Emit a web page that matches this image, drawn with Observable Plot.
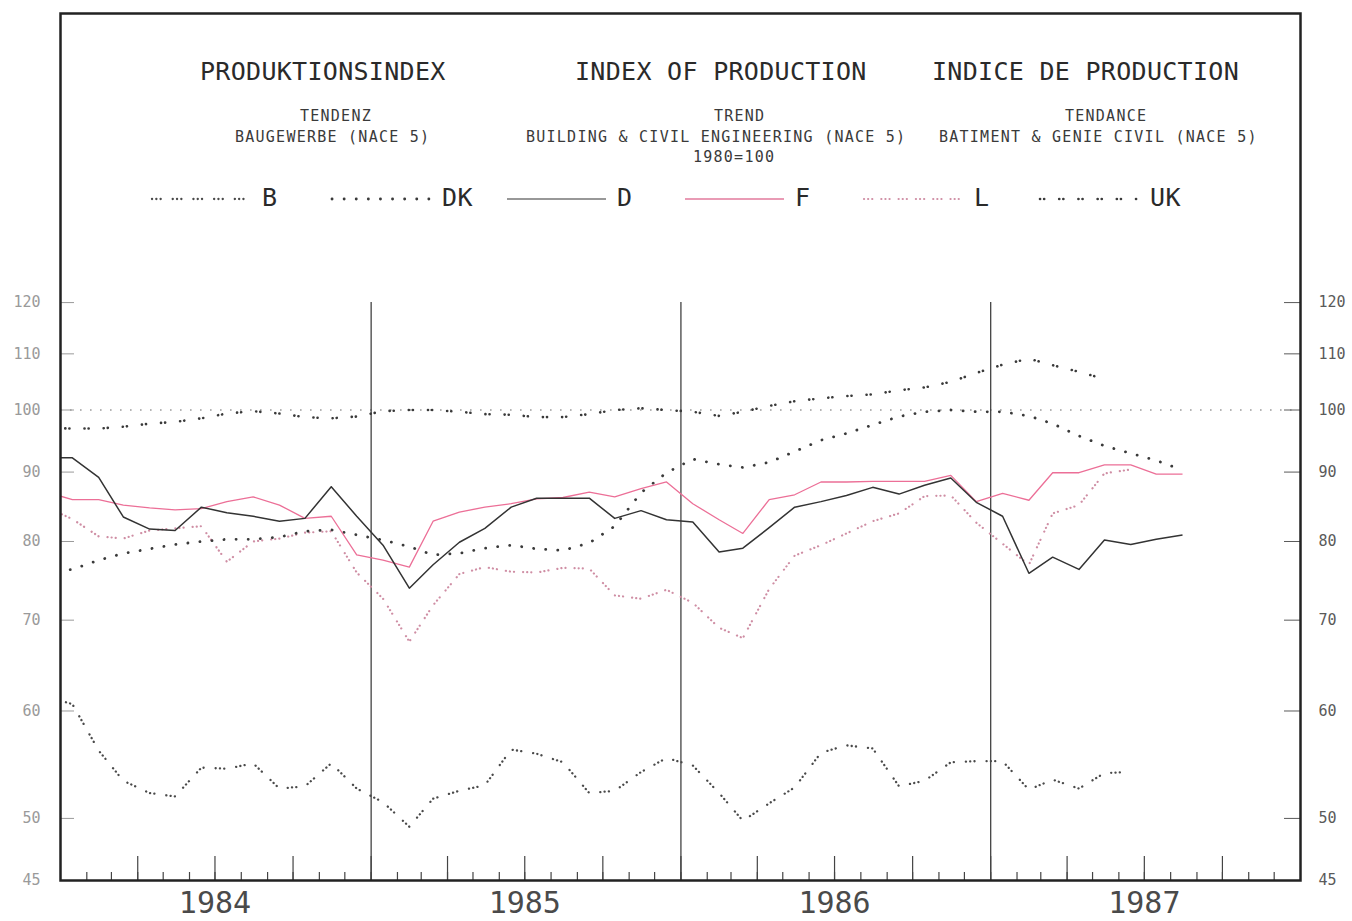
<!DOCTYPE html>
<html>
<head>
<meta charset="utf-8">
<script src="https://cdn.jsdelivr.net/npm/d3@7"></script>
<script src="https://cdn.jsdelivr.net/npm/@observablehq/plot@0.6"></script>
<style>
html, body { margin: 0; padding: 0; background: #fff; }
#wrap { position: relative; width: 1352px; height: 921px; overflow: hidden;
        font-family: "DejaVu Sans Mono", monospace; color: #2b2b2b; }
#wrap > svg { position: absolute; left: 0; top: 0; }
.t { position: absolute; white-space: pre; line-height: 1; }
.leg { position: absolute; }
</style>
</head>
<body>
<div id="wrap"></div>
<script>
// ---------- DATA ----------
const months = [
  "1983-12-15",
  "1984-01-15","1984-02-15","1984-03-15","1984-04-15","1984-05-15","1984-06-15",
  "1984-07-15","1984-08-15","1984-09-15","1984-10-15","1984-11-15","1984-12-15",
  "1985-01-15","1985-02-15","1985-03-15","1985-04-15","1985-05-15","1985-06-15",
  "1985-07-15","1985-08-15","1985-09-15","1985-10-15","1985-11-15","1985-12-15",
  "1986-01-15","1986-02-15","1986-03-15","1986-04-15","1986-05-15","1986-06-15",
  "1986-07-15","1986-08-15","1986-09-15","1986-10-15","1986-11-15","1986-12-15",
  "1987-01-15","1987-02-15","1987-03-15","1987-04-15","1987-05-15","1987-06-15",
  "1987-07-15","1987-08-15"
];

const seriesB = [61.5,
  60.7, 56.1, 53.3, 52.2, 51.9, 54.5, 54.4, 54.9, 52.6, 52.8, 54.9, 52.6,
  51.4, 49.3, 51.7, 52.4, 52.9, 56.2, 55.8, 55.0, 52.2, 52.4, 54.1, 55.4,
  54.7, 52.2, 49.8, 51.3, 52.7, 55.9, 56.6, 56.3, 52.8, 53.3, 55.0, 55.1,
  55.1, 52.5, 53.4, 52.6, 54.0, 54.1, null, null];

const seriesDK = [76.0,
  76.3, 77.5, 78.4, 79.0, 79.6, 80.0, 80.3, 80.3, 80.6, 81.4, 81.6, 80.9,
  80.2, 79.3, 78.2, 78.4, 79.1, 79.5, 79.0, 78.8, 79.8, 82.1, 86.9, 89.9,
  92.0, 91.2, 90.7, 91.5, 93.2, 95.0, 96.1, 97.5, 98.9, 99.7, 100.0, 99.7,
  99.7, 99.0, 97.7, 95.7, 94.1, 92.9, 91.8, 90.3];

const seriesD = [92.2,
  92.2, 89.2, 83.4, 81.7, 81.5, 84.8, 84.0, 83.5, 82.8, 83.2, 87.8, 83.5,
  79.5, 73.9, 76.9, 79.9, 81.8, 84.8, 86.1, 86.1, 86.1, 83.2, 84.3, 83.0,
  82.7, 78.6, 79.1, 81.9, 84.8, 85.6, 86.5, 87.7, 86.7, 88.0, 89.1, 85.5,
  83.5, 75.8, 77.9, 76.3, 80.2, 79.6, 80.3, 80.9];

const seriesF = [87.0,
  85.9, 85.9, 85.1, 84.7, 84.4, 84.6, 85.6, 86.3, 85.1, 83.2, 83.5, 78.2,
  77.5, 76.6, 82.8, 84.1, 84.8, 85.3, 86.0, 86.2, 87.0, 86.3, 87.5, 88.5,
  85.3, 83.0, 81.1, 85.9, 86.6, 88.5, 88.5, 88.6, 88.6, 88.6, 89.5, 85.6,
  86.8, 85.8, 89.9, 89.9, 91.1, 91.1, 89.7, 89.7];

const seriesL = [84.8,
  83.1, 80.7, 80.4, 81.5, 81.8, 82.1, 77.3, 80.0, 80.4, 81.2, 81.4, 75.9,
  72.6, 67.5, 71.8, 75.7, 76.6, 76.0, 75.9, 76.5, 76.4, 73.0, 72.6, 73.7,
  72.1, 69.1, 67.9, 73.8, 78.1, 79.5, 81.1, 82.8, 83.9, 86.4, 86.5, 82.6,
  79.7, 76.9, 83.9, 85.1, 89.8, 90.4, null, null];

const seriesUK = [97.0,
  96.9, 96.9, 97.2, 97.7, 98.0, 98.6, 99.4, 99.8, 99.4, 98.8, 98.6, 98.9,
  99.8, 100.0, 100.0, 99.7, 99.3, 99.2, 98.8, 98.8, 99.3, 100.0, 100.3, 100.0,
  99.7, 99.0, 99.7, 100.7, 101.5, 102.0, 102.4, 102.7, 103.4, 103.9, 104.9, 106.5,
  108.0, 109.1, 107.9, 106.7, 105.4, null, null, null];

const seriesNames = ["B", "DK", "D", "F", "L", "UK"];
const yTickValues = [45, 50, 60, 70, 80, 90, 100, 110, 120];
const referenceLevel = [100];
const yearBreaks = ["1985-01-01", "1986-01-01", "1987-01-01"];
const yearLabelAt = ["1984-07-01", "1985-07-01", "1986-07-01", "1987-07-01"];
const xDomain = ["1984-01-01", "1988-01-01"];

const titleTexts = ["PRODUKTIONSINDEX", "INDEX OF PRODUCTION", "INDICE DE PRODUCTION"];
const subtitleDE = ["TENDENZ", "BAUGEWERBE (NACE 5)"];
const subtitleEN = ["TREND", "BUILDING & CIVIL ENGINEERING (NACE 5)", "1980=100"];
const subtitleFR = ["TENDANCE", "BATIMENT & GENIE CIVIL (NACE 5)"];

// ---------- STYLES ----------
const styles = {
  B:  {stroke: "#4a4a4a", strokeWidth: 2.3, strokeDasharray: "0.1,4.2,0.1,4.2,0.1,12", cap: "round"},
  DK: {stroke: "#3a3a3a", strokeWidth: 2.8, strokeDasharray: "0.1,12", cap: "round"},
  D:  {stroke: "#333333", strokeWidth: 1.5, strokeDasharray: null, cap: "butt"},
  F:  {stroke: "#ec6f97", strokeWidth: 1.3, strokeDasharray: null, cap: "butt"},
  L:  {stroke: "#cf8ea4", strokeWidth: 2.2, strokeDasharray: "0.1,4,0.1,4,0.1,9", cap: "round"},
  UK: {stroke: "#3a3a3a", strokeWidth: 2.6, strokeDasharray: "0.1,4,0.1,15", cap: "round"}
};
const seriesValues = {B: seriesB, DK: seriesDK, D: seriesD, F: seriesF, L: seriesL, UK: seriesUK};

// ---------- BUILD ----------
const dates = months.map(m => new Date(m));
function rowsFor(name) {
  return seriesValues[name]
    .map((v, i) => ({date: dates[i], value: v}))
    .filter(d => d.value != null);
}

const x0 = new Date(xDomain[0]), x1 = new Date(xDomain[1]);
const monthTicks = d3.utcMonth.range(d3.utcMonth.offset(x0, 1), x1);
const quarterTicks = d3.utcMonth.range(d3.utcMonth.offset(x0, 3), x1, 3);

const drawOrder = ["L", "B", "DK", "UK", "F", "D"];
const lineMarks = drawOrder.map(name => Plot.lineY(rowsFor(name), {
  x: "date", y: "value", clip: true,
  stroke: styles[name].stroke,
  strokeWidth: styles[name].strokeWidth,
  strokeDasharray: styles[name].strokeDasharray,
  strokeLinecap: styles[name].cap,
  strokeLinejoin: "round"
}));

const chart = Plot.plot({
  width: 1352,
  height: 921,
  marginLeft: 60,
  marginRight: 52,
  marginTop: 13,
  marginBottom: 41,
  style: {fontFamily: '"DejaVu Sans Mono", monospace', background: "transparent", overflow: "visible"},
  x: {type: "utc", domain: [x0, x1]},
  y: {type: "log", domain: [45, 196]},
  marks: [
    Plot.ruleY(referenceLevel, {stroke: "#9c9c9c", strokeWidth: 1.6, strokeDasharray: "1.6,8.4"}),
    Plot.ruleX(yearBreaks.map(d => new Date(d)), {
      y1: yTickValues[yTickValues.length - 1], y2: yTickValues[0],
      stroke: "#333", strokeWidth: 1.2
    }),
    ...lineMarks,
    Plot.axisY({anchor: "left", ticks: yTickValues, tickFormat: d => String(d),
      tickSize: -14, tickPadding: 34, fontSize: 15, color: "#9a9a9a", label: null}),
    Plot.axisY({anchor: "right", ticks: yTickValues, tickFormat: d => String(d),
      tickSize: -17, tickPadding: 35, fontSize: 15, color: "#5a5a5a", label: null}),
    Plot.axisX({anchor: "bottom", ticks: monthTicks, tickSize: -8, tickFormat: () => "",
      label: null, color: "#444", strokeWidth: 1.2}),
    Plot.axisX({anchor: "bottom", ticks: quarterTicks, tickSize: -24, tickFormat: () => "",
      label: null, color: "#444", strokeWidth: 1.2}),
    Plot.axisX({anchor: "bottom", ticks: yearLabelAt.map(d => new Date(d)), tickSize: 0,
      tickPadding: 11, tickFormat: d3.utcFormat("%Y"), fontSize: 30, label: null, color: "#4a4a4a"}),
    Plot.frame({stroke: "#222", strokeWidth: 2.5})
  ]
});

const wrap = document.getElementById("wrap");
wrap.appendChild(chart);

// ---------- TEXT OVERLAYS (title block inside frame) ----------
function addText(str, left, baseline, size, spacing, color) {
  const el = document.createElement("div");
  el.className = "t";
  el.textContent = str;
  el.style.left = left + "px";
  el.style.top = (baseline - 0.846 * size) + "px";
  el.style.fontSize = size + "px";
  el.style.letterSpacing = spacing + "px";
  if (color) el.style.color = color;
  wrap.appendChild(el);
  return el;
}
const titleLefts = [200, 575, 932];
titleTexts.forEach((s, i) => addText(s, titleLefts[i], 80, 25, 0.3, "#2a2a2a"));

addText(subtitleDE[0], 300, 122, 15, 1.25, "#3a3a3a");
addText(subtitleDE[1], 235, 143, 15, 1.25, "#3a3a3a");
addText(subtitleEN[0], 714, 122, 15, 1.25, "#3a3a3a");
addText(subtitleEN[1], 526, 143, 15, 1.25, "#3a3a3a");
addText(subtitleEN[2], 693, 163, 15, 1.25, "#3a3a3a");
addText(subtitleFR[0], 1065, 122, 15, 1.25, "#3a3a3a");
addText(subtitleFR[1], 939, 143, 15, 1.25, "#3a3a3a");

// ---------- LEGEND ----------
const legendLefts = [150, 330, 505, 683, 862, 1038];
const ns = "http://www.w3.org/2000/svg";
seriesNames.forEach((name, i) => {
  const left = legendLefts[i];
  const svg = document.createElementNS(ns, "svg");
  svg.setAttribute("width", 104);
  svg.setAttribute("height", 10);
  svg.setAttribute("class", "leg");
  svg.style.left = left + "px";
  svg.style.top = "194px";
  const ln = document.createElementNS(ns, "line");
  ln.setAttribute("x1", 2); ln.setAttribute("x2", 101);
  ln.setAttribute("y1", 5); ln.setAttribute("y2", 5);
  ln.setAttribute("stroke", name === "F" ? "#e27a9c" : styles[name].stroke);
  ln.setAttribute("stroke-width", name === "D" ? 1.2 : styles[name].strokeWidth);
  ln.setAttribute("stroke-linecap", styles[name].cap);
  if (styles[name].strokeDasharray) ln.setAttribute("stroke-dasharray", styles[name].strokeDasharray);
  svg.appendChild(ln);
  wrap.appendChild(svg);
  addText(name, left + 112, 206, 25, 0.4, "#2a2a2a");
});
</script>
</body>
</html>
